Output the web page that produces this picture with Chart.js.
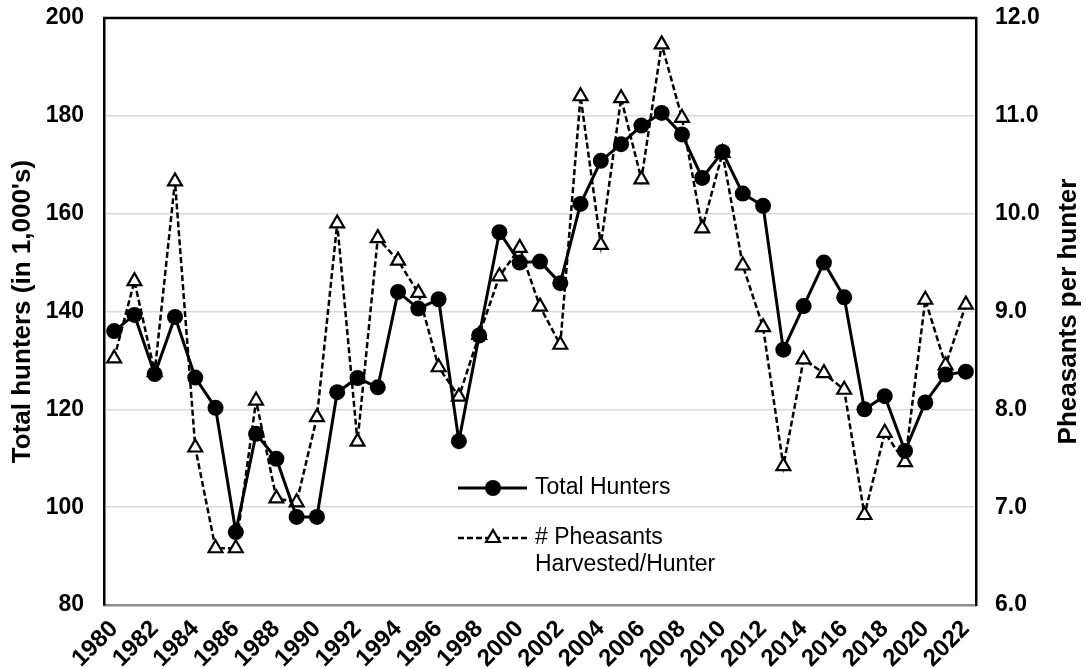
<!DOCTYPE html>
<html>
<head>
<meta charset="utf-8">
<script src="https://cdn.jsdelivr.net/npm/chart.js@4"></script>
<style>
  html, body { margin: 0; padding: 0; background: #fff; }
  #wrap { width: 1086px; height: 669px; }
</style>
</head>
<body>
<div id="wrap"><canvas id="chart" width="1086" height="669"></canvas></div>
<script>
// years on the x axis (every other one is labelled)
const years = [];
for (let y = 1980; y <= 2022; y++) years.push(String(y));

// Total hunters, in 1,000's (left axis)
const totalHunters = [136.0, 139.3, 127.2, 138.9, 126.5, 120.3, 94.9, 115.0, 109.9, 98.0,
  98.0, 123.5, 126.4, 124.5, 144.0, 140.6, 142.5, 113.5, 135.1, 156.2,
  150.0, 150.2, 145.8, 162.0, 170.8, 174.2, 178.0, 180.6, 176.2, 167.3,
  172.6, 164.1, 161.6, 132.2, 141.1, 150.0, 142.9, 120.0, 122.7, 111.5,
  121.4, 127.1, 127.7];

// pheasants harvested per hunter (right axis)
const pheasantsPerHunter = [8.52, 9.31, 8.38, 10.33, 7.61, 6.58, 6.58, 8.09, 7.09, 7.05,
  7.92, 9.90, 7.67, 9.75, 9.52, 9.19, 8.43, 8.13, 8.76, 9.36,
  9.65, 9.05, 8.66, 11.20, 9.68, 11.18, 10.35, 11.73, 10.98, 9.85,
  10.62, 9.47, 8.84, 7.42, 8.51, 8.37, 8.20, 6.92, 7.76, 7.46,
  9.12, 8.45, 9.07];

const seriesNames = ['Total Hunters', '# Pheasants', 'Harvested/Hunter'];
const axisTitles = ["Total hunters (in 1,000's)", 'Pheasants per hunter'];

const FONT = 'Arial, "Liberation Sans", sans-serif';

// borders, axis titles and the legend inside the plot
const extras = {
  id: 'extras',
  afterDraw(chart) {
    const ctx = chart.ctx;
    const ca = chart.chartArea;
    ctx.save();

    // top frame line
    ctx.strokeStyle = '#000';
    ctx.lineWidth = 2.5;
    ctx.beginPath();
    ctx.moveTo(ca.left - 1, ca.top);
    ctx.lineTo(ca.right + 1, ca.top);
    ctx.stroke();

    // axis titles, both reading bottom to top
    ctx.fillStyle = '#000';
    ctx.font = 'bold 26px ' + FONT;
    ctx.textAlign = 'center';
    ctx.textBaseline = 'middle';
    const midY = (ca.top + ca.bottom) / 2;
    [[22.5, axisTitles[0]], [chart.width - 17, axisTitles[1]]].forEach(([x, t]) => {
      ctx.save();
      ctx.translate(x, midY);
      ctx.rotate(-Math.PI / 2);
      ctx.fillText(t, 0, 0);
      ctx.restore();
    });

    // legend
    const lx = ca.left + 354, lw = 69, mx = lx + 35;
    const r1 = ca.top + 470, r2 = ca.top + 520;
    ctx.lineWidth = 3;
    ctx.beginPath();
    ctx.moveTo(lx, r1);
    ctx.lineTo(lx + lw, r1);
    ctx.stroke();
    ctx.beginPath();
    ctx.arc(mx, r1, 8, 0, Math.PI * 2);
    ctx.fill();

    ctx.lineWidth = 2.5;
    ctx.setLineDash([6, 3]);
    ctx.beginPath();
    ctx.moveTo(lx, r2);
    ctx.lineTo(lx + lw, r2);
    ctx.stroke();
    ctx.setLineDash([]);
    const tr = 8;
    ctx.fillStyle = '#fff';
    ctx.lineWidth = 2.2;
    ctx.beginPath();
    ctx.moveTo(mx, r2 - tr);
    ctx.lineTo(mx + tr * 0.866, r2 + tr / 2);
    ctx.lineTo(mx - tr * 0.866, r2 + tr / 2);
    ctx.closePath();
    ctx.fill();
    ctx.stroke();

    ctx.fillStyle = '#000';
    ctx.font = '23px ' + FONT;
    ctx.textAlign = 'left';
    ctx.fillText(seriesNames[0], lx + 77, r1);
    ctx.fillText(seriesNames[1], lx + 77, r2);
    ctx.fillText(seriesNames[2], lx + 77, r2 + 27);
    ctx.restore();
  }
};

const tickFont = { family: FONT, size: 23, weight: 'bold' };

// vertical axes: fixed width, and no extra top/bottom padding from tick padding
const fixY = w => s => { s.width = w; s.paddingTop = 0; s.paddingBottom = 0; };

new Chart(document.getElementById('chart'), {
  type: 'line',
  data: {
    labels: years,
    datasets: [
      {
        label: seriesNames[0],
        data: totalHunters,
        yAxisID: 'y',
        borderColor: '#000',
        backgroundColor: '#000',
        borderWidth: 3,
        pointStyle: 'circle',
        pointRadius: 8,
        pointBackgroundColor: '#000',
        pointBorderWidth: 0,
        tension: 0
      },
      {
        label: seriesNames[1] + ' ' + seriesNames[2],
        data: pheasantsPerHunter,
        yAxisID: 'y1',
        borderColor: '#000',
        backgroundColor: '#fff',
        borderWidth: 2.5,
        borderDash: [6, 3],
        pointStyle: 'triangle',
        pointRadius: 8,
        pointBackgroundColor: '#fff',
        pointBorderColor: '#000',
        pointBorderWidth: 2.2,
        tension: 0
      }
    ]
  },
  options: {
    responsive: false,
    animation: false,
    layout: { padding: { top: 18, left: 0, right: 0, bottom: 0 } },
    plugins: {
      legend: { display: false },
      tooltip: { enabled: false }
    },
    scales: {
      x: {
        offset: true,
        grid: { display: false, drawTicks: false },
        border: { display: true, color: '#8c8c8c', width: 2.5 },
        ticks: {
          font: { family: FONT, size: 24, weight: 'bold' },
          color: '#000',
          autoSkip: false,
          minRotation: 45,
          maxRotation: 45,
          padding: 10,
          callback: function (v, i) { return i % 2 === 0 ? years[i] : ''; }
        },
        afterFit: s => { s.height = 64; }
      },
      y: {
        position: 'left',
        min: 80,
        max: 200,
        grid: { color: '#d9d9d9', lineWidth: 1.5, drawTicks: false },
        border: { color: '#000', width: 2.5 },
        ticks: { stepSize: 20, font: tickFont, color: '#000', padding: 20 },
        afterFit: fixY(104)
      },
      y1: {
        position: 'right',
        min: 6,
        max: 12,
        grid: { display: false, drawTicks: false },
        border: { color: '#000', width: 2.5 },
        ticks: {
          stepSize: 1,
          font: tickFont,
          color: '#000',
          padding: 19,
          callback: v => v.toFixed(1)
        },
        afterFit: fixY(110)
      }
    }
  },
  plugins: [extras]
});
</script>
</body>
</html>
